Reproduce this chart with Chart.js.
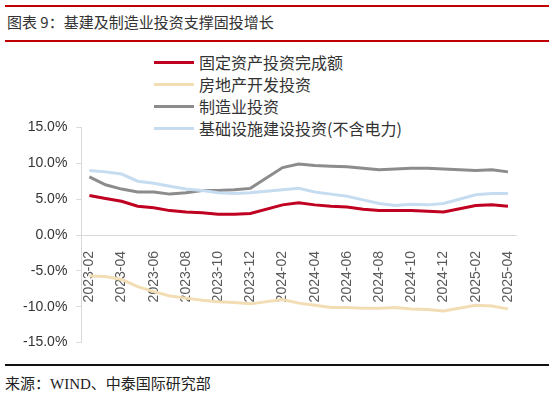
<!DOCTYPE html>
<html>
<head>
<meta charset="utf-8">
<script src="https://cdn.jsdelivr.net/npm/chart.js@4/dist/chart.umd.min.js"></script>
<style>
  html, body { margin: 0; padding: 0; background: #fff; }
  body { width: 554px; height: 395px; position: relative; overflow: hidden; font-family: "Noto Sans CJK SC", sans-serif; }
  .rule { position: absolute; left: 5px; width: 544px; }
  #title { position: absolute; left: 7px; top: 11px; font-size: 15px; color: #333; white-space: nowrap; }
  #source { position: absolute; left: 5px; top: 372px; font-size: 15px; color: #222; white-space: nowrap;
            font-family: "Liberation Serif", "Noto Sans CJK SC", serif; }
  #legend { position: absolute; left: 154px; top: 51px; }
  .item { height: 22px; display: flex; align-items: center; font-size: 16px; color: #333; }
  .swatch { width: 40px; height: 3px; margin-right: 5px; }
  #wrap { position: absolute; left: 0; top: 110px; width: 554px; height: 250px; }
</style>
</head>
<body>
<div class="rule" style="top:5px;height:2px;background:#C00000"></div>
<div id="title">图表 9：基建及制造业投资支撑固投增长</div>
<div class="rule" style="top:40px;height:2px;background:#C00000"></div>
<div id="legend"></div>
<div id="wrap"><canvas id="chart"></canvas></div>
<div class="rule" style="top:364px;height:2px;background:#111"></div>
<div id="source">来源：WIND、中泰国际研究部</div>

<script>
// months on a date-like axis; January values are not published (null)
const months = [
    '2023-02', '2023-03', '2023-04', '2023-05', '2023-06', '2023-07', '2023-08', '2023-09',
    '2023-10', '2023-11', '2023-12', '2024-01', '2024-02', '2024-03', '2024-04', '2024-05',
    '2024-06', '2024-07', '2024-08', '2024-09', '2024-10', '2024-11', '2024-12', '2025-01',
    '2025-02', '2025-03', '2025-04'
];

const seriesNames = ['固定资产投资完成额', '房地产开发投资', '制造业投资', '基础设施建设投资(不含电力)'];
const seriesColors = ['#C00020', '#F2DDB4', '#8C8C8C', '#C6DCF0'];

const fixedAsset = [5.5, 5.1, 4.7, 4.0, 3.8, 3.4, 3.2, 3.1, 2.9, 2.9, 3.0, null, 4.2, 4.5, 4.2, 4.0,
    3.9, 3.6, 3.4, 3.4, 3.4, 3.3, 3.2, null, 4.1, 4.2, 4.0];
const realEstate = [-5.7, -5.8, -6.2, -7.2, -7.9, -8.5, -8.8, -9.1, -9.3, -9.4, -9.6, null, -9.0, -9.5, -9.8, -10.1,
    -10.1, -10.2, -10.2, -10.1, -10.3, -10.4, -10.6, null, -9.8, -9.9, -10.3];
const manufacturing = [8.1, 7.0, 6.4, 6.0, 6.0, 5.7, 5.9, 6.2, 6.2, 6.3, 6.5, null, 9.4, 9.9, 9.7, 9.6,
    9.5, 9.3, 9.1, 9.2, 9.3, 9.3, 9.2, null, 9.0, 9.1, 8.8];
const infrastructure = [9.0, 8.8, 8.5, 7.5, 7.2, 6.8, 6.4, 6.2, 5.9, 5.8, 5.9, null, 6.3, 6.5, 6.0, 5.7,
    5.4, 4.9, 4.4, 4.1, 4.3, 4.2, 4.4, null, 5.6, 5.8, 5.8];

const seriesValues = [fixedAsset, realEstate, manufacturing, infrastructure];

// legend drawn as html, stacked like the original
const legendEl = document.getElementById('legend');
seriesNames.forEach((name, i) => {
    const row = document.createElement('div');
    row.className = 'item';
    row.innerHTML = '<span class="swatch" style="background:' + seriesColors[i] + '"></span>' + name;
    legendEl.appendChild(row);
});

const tickFont = { family: '"Liberation Sans", Arial, sans-serif', size: 14 };

// draw back to front so the red line sits on top
const datasets = seriesNames.map((name, i) => ({
    label: name,
    data: seriesValues[i],
    borderColor: seriesColors[i],
    backgroundColor: seriesColors[i],
    borderWidth: 3,
    pointRadius: 0,
    tension: 0,
    spanGaps: true,
    order: i === 0 ? 0 : (4 - i)
}));

new Chart(document.getElementById('chart').getContext('2d'), {
    type: 'line',
    data: { labels: months, datasets: datasets },
    options: {
        responsive: true,
        maintainAspectRatio: false,
        animation: false,
        layout: { padding: { left: 14, right: 38, top: 16, bottom: 17 } },
        plugins: { legend: { display: false }, tooltip: { enabled: false } },
        scales: {
            x: {
                position: { y: 0 },
                offset: true,
                grid: { display: false },
                border: { display: true, color: '#D9D9D9', width: 1 },
                ticks: {
                    autoSkip: false,
                    maxRotation: 90,
                    minRotation: 90,
                    padding: 8,
                    color: '#595959',
                    font: tickFont,
                    callback: (v, i) => (i % 2 === 0 ? months[i] : '')
                }
            },
            y: {
                min: -15,
                max: 15,
                grid: { drawOnChartArea: false, drawTicks: true, tickLength: 5, color: '#D9D9D9' },
                border: { display: true, color: '#D9D9D9', width: 1 },
                ticks: {
                    stepSize: 5,
                    padding: 9,
                    color: '#333',
                    font: tickFont,
                    callback: v => v.toFixed(1) + '%'
                }
            }
        }
    }
});
</script>
</body>
</html>
